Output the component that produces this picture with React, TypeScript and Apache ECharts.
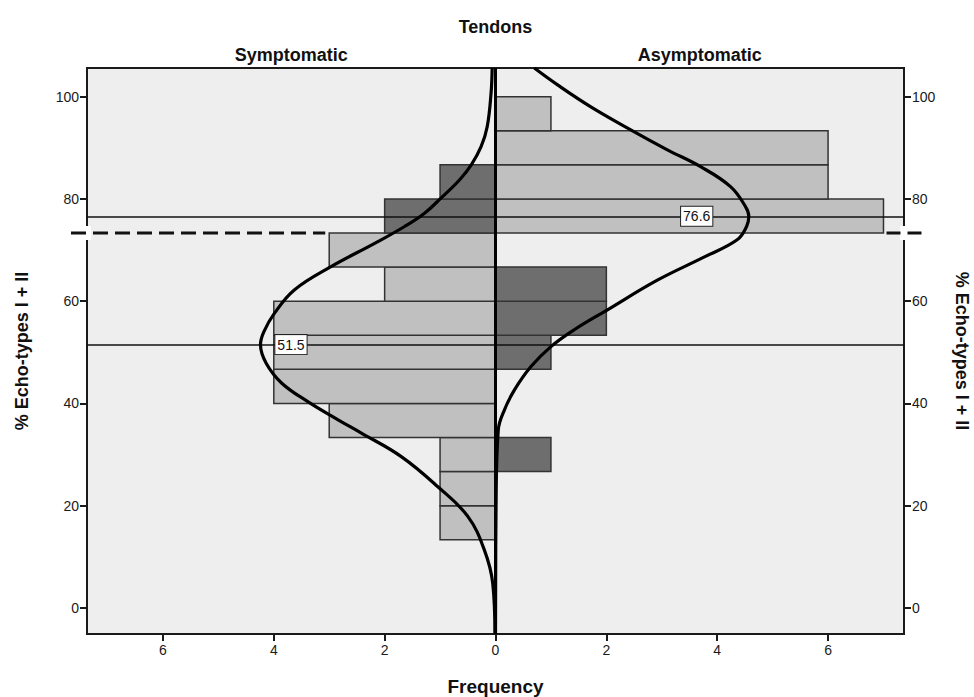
import React, { useEffect, useRef } from "react";
import * as echarts from "echarts";

// ---- data ----
const binEdges = [13.33, 20.0, 26.67, 33.33, 40.0, 46.67, 53.33, 60.0, 66.67, 73.33, 80.0, 86.67, 93.33, 100.0];
const symptomaticCounts = [1, 1, 1, 3, 4, 4, 4, 2, 3, 2, 1, 0, 0];
const asymptomaticCounts = [0, 0, 1, 0, 0, 1, 2, 2, 0, 7, 6, 6, 1];
const cutoffValue = 73.33;
const symptomaticRef = 51.5;
const asymptomaticRef = 76.6;
const xTickValues = [-6, -4, -2, 0, 2, 4, 6];
const yTickValues = [0, 20, 40, 60, 80, 100];
// [frequency, % echo-types]
const symptomaticCurve: [number, number][] = [
  [0.01, -5.1], [0.05, 4.8], [0.2, 11.3], [0.5, 17.9], [1.04, 23.7], [1.7, 29.6],
  [2.42, 34.2], [2.84, 36.8], [3.38, 40.3], [3.86, 44.0], [4.14, 47.9], [4.24, 51.5],
  [4.18, 54.0], [3.99, 57.6], [3.63, 62.2], [2.96, 66.8], [2.18, 71.3], [1.64, 74.6],
  [1.28, 77.2], [0.98, 80.2], [0.65, 83.7], [0.44, 86.6], [0.26, 90.2], [0.15, 94.1],
  [0.08, 100.7], [0.06, 105.6],
];
const asymptomaticCurve: [number, number][] = [
  [0.0, -5.1], [0.01, 20.0], [0.05, 34.8], [0.16, 38.7], [0.34, 42.6], [0.64, 47.2],
  [1.0, 51.1], [1.42, 54.4], [2.02, 58.3], [2.92, 64.1], [3.76, 68.6], [4.36, 72.0],
  [4.53, 74.6], [4.57, 76.6], [4.51, 78.5], [4.24, 82.4], [3.7, 86.3], [3.1, 89.6],
  [2.44, 93.5], [1.72, 98.0], [1.12, 102.3], [0.7, 105.6],
];

const X_MIN = -7.37;
const X_MAX = 7.37;
const Y_MIN = -5.1;
const Y_MAX = 105.6;

const FONT = '"Liberation Sans", Arial, sans-serif';
const LIGHT = "#c0c0c0";
const DARK = "#6e6e6e";

export default function App() {
  const ref = useRef<HTMLDivElement>(null);

  useEffect(() => {
    if (!ref.current) return;
    const chart = echarts.init(ref.current, undefined, { renderer: "svg" });

    const barData: number[][] = [];
    for (let i = 0; i < symptomaticCounts.length; i++) {
      const lo = binEdges[i];
      const hi = binEdges[i + 1];
      if (symptomaticCounts[i] > 0) {
        barData.push([lo, hi, -symptomaticCounts[i], lo >= cutoffValue - 0.5 ? 1 : 0]);
      }
      if (asymptomaticCounts[i] > 0) {
        barData.push([lo, hi, asymptomaticCounts[i], hi <= cutoffValue + 0.5 ? 1 : 0]);
      }
    }
    // bar extents touching the cut-off line (the dashed line is hidden behind them)
    let leftExtent = 0;
    let rightExtent = 0;
    for (let i = 0; i < symptomaticCounts.length; i++) {
      const touches = Math.abs(binEdges[i] - cutoffValue) < 0.5 || Math.abs(binEdges[i + 1] - cutoffValue) < 0.5;
      if (touches) {
        leftExtent = Math.max(leftExtent, symptomaticCounts[i]);
        rightExtent = Math.max(rightExtent, asymptomaticCounts[i]);
      }
    }

    const axisLineStyle = { color: "#1a1a1a", width: 2 };
    const labelStyle = { color: "#1a1a1a", fontSize: 14, fontFamily: FONT };

    const option: any = {
      animation: false,
      backgroundColor: "#ffffff",
      grid: {
        left: 87,
        right: 70,
        top: 68,
        bottom: 63,
        show: true,
        backgroundColor: "#eeeeee",
        borderColor: "#1a1a1a",
        borderWidth: 2,
        containLabel: false,
      },
      xAxis: {
        type: "value",
        min: X_MIN,
        max: X_MAX,
        axisLine: { show: true, onZero: false, lineStyle: axisLineStyle },
        axisTick: { show: true, inside: false, length: 7, lineStyle: { color: "#1a1a1a", width: 2 }, customValues: xTickValues },
        axisLabel: {
          ...labelStyle,
          margin: 9,
          customValues: xTickValues,
          formatter: (v: number) => String(Math.abs(Math.round(v))),
        },
        splitLine: { show: false },
      },
      yAxis: [
        {
          type: "value",
          position: "left",
          min: Y_MIN,
          max: Y_MAX,
          axisLine: { show: true, onZero: false, lineStyle: axisLineStyle },
          axisTick: { show: true, inside: false, length: 7, lineStyle: { color: "#1a1a1a", width: 2 }, customValues: yTickValues },
          axisLabel: { ...labelStyle, margin: 8, customValues: yTickValues },
          splitLine: { show: false },
        },
        {
          type: "value",
          position: "right",
          min: Y_MIN,
          max: Y_MAX,
          axisLine: { show: true, onZero: false, lineStyle: axisLineStyle },
          axisTick: { show: true, inside: false, length: 7, lineStyle: { color: "#1a1a1a", width: 2 }, customValues: yTickValues },
          axisLabel: { ...labelStyle, margin: 8, customValues: yTickValues },
          splitLine: { show: false },
        },
      ],
      series: [
        {
          type: "custom",
          name: "bars",
          z: 3,
          xAxisIndex: 0,
          yAxisIndex: 0,
          encode: { x: 2, y: [0, 1] },
          data: barData,
          renderItem: (params: any, api: any) => {
            const lo = api.value(0);
            const hi = api.value(1);
            const c = api.value(2);
            const dark = api.value(3);
            const p0 = api.coord([0, hi]);
            const p1 = api.coord([c, lo]);
            return {
              type: "rect",
              shape: {
                x: Math.min(p0[0], p1[0]),
                y: p0[1],
                width: Math.abs(p1[0] - p0[0]),
                height: p1[1] - p0[1],
              },
              style: { fill: dark ? DARK : LIGHT, stroke: "#333333", lineWidth: 1.5 },
            };
          },
        },
        {
          type: "line",
          name: "Symptomatic fit",
          z: 6,
          data: symptomaticCurve.map(([f, v]) => [-f, v]),
          smooth: 0.4,
          showSymbol: false,
          symbol: "none",
          clip: true,
          lineStyle: { color: "#000000", width: 3.2 },
          markLine: {
            silent: true,
            symbol: "none",
            label: { show: false },
            lineStyle: { color: "#111111", width: 1.5, type: "solid" },
            data: [{ yAxis: symptomaticRef }, { yAxis: asymptomaticRef }],
          },
          markPoint: {
            symbol: "rect",
            symbolSize: 1,
            itemStyle: { color: "rgba(0,0,0,0)" },
            label: {
              show: true,
              position: "inside",
              formatter: (p: any) => p.name,
              backgroundColor: "#ffffff",
              borderColor: "#222222",
              borderWidth: 1,
              padding: [3, 2, 2, 2],
              color: "#111111",
              fontSize: 14,
              fontFamily: FONT,
            },
            data: [
              { name: String(symptomaticRef), coord: [-3.69, symptomaticRef] },
              { name: String(asymptomaticRef), coord: [3.63, asymptomaticRef] },
            ],
          },
        },
        {
          type: "line",
          name: "Asymptomatic fit",
          z: 6,
          data: asymptomaticCurve,
          smooth: 0.4,
          showSymbol: false,
          symbol: "none",
          clip: true,
          lineStyle: { color: "#000000", width: 3.2 },
          markLine: {
            silent: true,
            symbol: "none",
            label: { show: false },
            lineStyle: { color: "#000000", width: 3, type: "solid" },
            data: [{ xAxis: 0 }],
          },
        },
      ],
    };

    chart.setOption(option);

    const yPix = chart.convertToPixel({ yAxisIndex: 0 }, cutoffValue) as number;
    const xL = chart.convertToPixel({ xAxisIndex: 0 }, X_MIN) as number;
    const xR = chart.convertToPixel({ xAxisIndex: 0 }, X_MAX) as number;
    const xC = chart.convertToPixel({ xAxisIndex: 0 }, 0) as number;
    const xBarL = chart.convertToPixel({ xAxisIndex: 0 }, -leftExtent) as number;
    const xBarR = chart.convertToPixel({ xAxisIndex: 0 }, rightExtent) as number;
    const yTop = chart.convertToPixel({ yAxisIndex: 0 }, Y_MAX) as number;
    const yBot = chart.convertToPixel({ yAxisIndex: 0 }, Y_MIN) as number;

    const textStyle = (text: string, size: number) => ({
      text,
      fontSize: size,
      fontWeight: "bold",
      fontFamily: FONT,
      fill: "#111111",
      align: "center",
      verticalAlign: "middle",
    });
    const dashStyle = { stroke: "#111111", lineWidth: 3, lineDash: [15, 7] };

    chart.setOption({
      graphic: [
        { type: "rect", z: 1, shape: { x: xL - 4, y: yPix - 7, width: 8, height: 14 }, style: { fill: "#ffffff" } },
        { type: "rect", z: 1, shape: { x: xR - 4, y: yPix - 7, width: 8, height: 14 }, style: { fill: "#ffffff" } },
        { type: "line", z: 2, shape: { x1: xL - 16, y1: yPix, x2: xBarL - 4, y2: yPix }, style: dashStyle },
        { type: "line", z: 2, shape: { x1: xBarR + 3, y1: yPix, x2: xR + 18, y2: yPix }, style: { ...dashStyle, lineDash: [14, 7] } },
        { type: "text", z: 10, x: xC, y: 27, style: textStyle("Tendons", 18) },
        { type: "text", z: 10, x: (xL + xC) / 2, y: 55, style: textStyle("Symptomatic", 18) },
        { type: "text", z: 10, x: (xR + xC) / 2, y: 55, style: textStyle("Asymptomatic", 18) },
        { type: "text", z: 10, x: xC, y: yBot + 52, style: textStyle("Frequency", 19) },
        {
          type: "text",
          z: 10,
          x: 22,
          y: (yTop + yBot) / 2,
          rotation: Math.PI / 2,
          style: textStyle("% Echo-types I + II", 18),
        },
        {
          type: "text",
          z: 10,
          x: 962,
          y: (yTop + yBot) / 2,
          rotation: -Math.PI / 2,
          style: textStyle("% Echo-types I + II", 18),
        },
      ],
    });

    return () => chart.dispose();
  }, []);

  return (
    <div
      ref={ref}
      style={{ position: "fixed", left: 0, top: 0, width: 974, height: 697 }}
    />
  );
}
